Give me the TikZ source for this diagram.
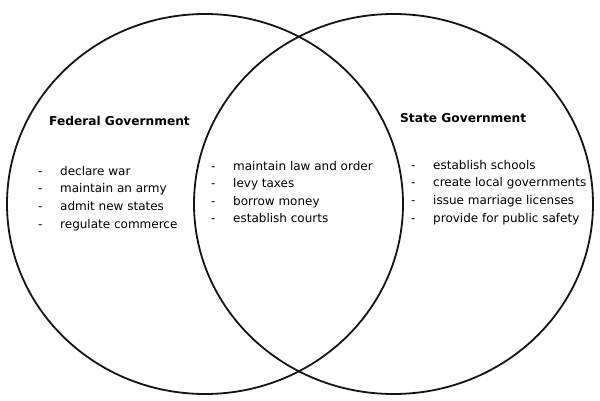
\documentclass[tikz,border=0pt]{standalone}
\usepackage{fontspec}
\setmainfont{DejaVu Sans}
\usetikzlibrary{shapes.geometric}
\begin{document}
\begin{tikzpicture}[x=1pt,y=1pt,
  ring/.style={draw=black!92, line width=1.8pt, ellipse, inner sep=0pt},
  head/.style={font=\fontsize{12.2}{14}\selectfont\bfseries, anchor=base west, inner sep=0pt},
  item/.style={font=\fontsize{12}{14}\selectfont, anchor=mid west, inner sep=0pt}]
\useasboundingbox[fill=white] (0,0) rectangle (600,400);
\node[ring, minimum width=396pt, minimum height=380pt] (fed) at (205,196) {};
\node[ring, minimum width=399pt, minimum height=380pt] (state) at (393.5,196) {};
\node[head] (fedtitle) at (49,275) {Federal Government};
\node[head] (statetitle) at (400,278) {State Government};
\foreach \t [count=\i] in {declare war, maintain an army, admit new states, regulate commerce}
  \node[item] (f\i) at (38,{400-172.5-17.6*(\i-1)}) {\makebox[22pt][l]{-}\t};
\foreach \t [count=\i] in {maintain law and order, levy taxes, borrow money, establish courts}
  \node[item] (b\i) at (211,{400-168-17.2*(\i-1)}) {\makebox[22pt][l]{-}\t};
\foreach \t [count=\i] in {establish schools, create local governments, issue marriage licenses, provide for public safety}
  \node[item] (s\i) at (411,{400-166.5-17.6*(\i-1)}) {\makebox[22pt][l]{-}\t};
\end{tikzpicture}
\end{document}
